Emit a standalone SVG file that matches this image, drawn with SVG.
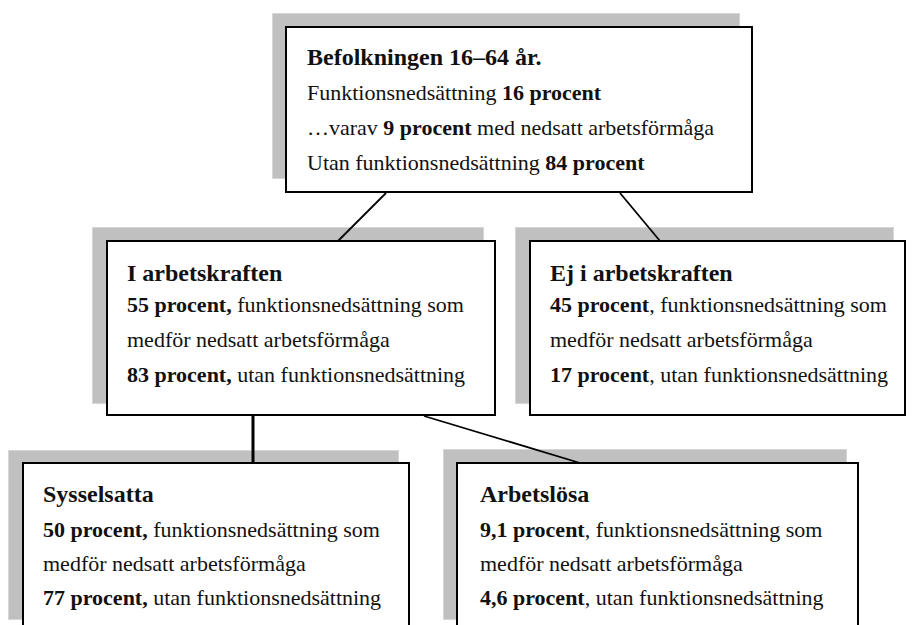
<svg xmlns="http://www.w3.org/2000/svg" width="917" height="625" viewBox="0 0 917 625">
<style>
.shadow{fill:#c0c0c0;stroke:#d6d6d6;stroke-width:1}
.box{fill:#ffffff;stroke:#000000;stroke-width:2}
text{font-family:"Liberation Serif","Times New Roman",serif;fill:#111111}
.t{font-size:24px;font-weight:bold}
.b{font-size:22px}
.s{font-weight:bold}
.conn{stroke:#000000;stroke-width:1.8;fill:none}
</style>
<rect width="917" height="625" fill="#ffffff"/>
<g id="befolkning">
<rect class="shadow" x="272.5" y="13.5" width="467" height="165"/>
<rect class="box" x="286" y="27" width="466" height="165"/>
<text class="t" x="307" y="65">Befolkningen 16–64 år.</text>
<text class="b" x="307" y="100">Funktionsnedsättning <tspan class="s">16 procent</tspan></text>
<text class="b" x="307" y="135">…varav <tspan class="s">9 procent</tspan> med nedsatt arbetsförmåga</text>
<text class="b" x="307" y="170">Utan funktionsnedsättning <tspan class="s">84 procent</tspan></text>
</g>
<g id="i-arbetskraften">
<rect class="shadow" x="92.5" y="227.5" width="391" height="176"/>
<rect class="box" x="107" y="241" width="388" height="174"/>
<text class="t" x="127" y="281">I arbetskraften</text>
<text class="b" x="127" y="312"><tspan class="s">55 procent,</tspan> funktionsnedsättning som</text>
<text class="b" x="127" y="347">medför nedsatt arbetsförmåga</text>
<text class="b" x="127" y="382"><tspan class="s">83 procent,</tspan> utan funktionsnedsättning</text>
</g>
<g id="ej-i-arbetskraften">
<rect class="shadow" x="515.5" y="227.5" width="378" height="176"/>
<rect class="box" x="530" y="241" width="375" height="174"/>
<text class="t" x="550" y="281">Ej i arbetskraften</text>
<text class="b" x="550" y="312"><tspan class="s">45 procent</tspan>, funktionsnedsättning som</text>
<text class="b" x="550" y="347">medför nedsatt arbetsförmåga</text>
<text class="b" x="550" y="382"><tspan class="s">17 procent</tspan>, utan funktionsnedsättning</text>
</g>
<g id="sysselsatta">
<rect class="shadow" x="8.5" y="450.5" width="390" height="169"/>
<rect class="box" x="23" y="463" width="386" height="175"/>
<text class="t" x="43" y="502">Sysselsatta</text>
<text class="b" x="43" y="537"><tspan class="s">50 procent,</tspan> funktionsnedsättning som</text>
<text class="b" x="43" y="571">medför nedsatt arbetsförmåga</text>
<text class="b" x="43" y="605"><tspan class="s">77 procent,</tspan> utan funktionsnedsättning</text>
</g>
<g id="arbetslosa">
<rect class="shadow" x="443.5" y="449.5" width="403" height="170"/>
<rect class="box" x="457" y="463" width="401" height="175"/>
<text class="t" x="480" y="502">Arbetslösa</text>
<text class="b" x="480" y="537"><tspan class="s">9,1 procent</tspan>, funktionsnedsättning som</text>
<text class="b" x="480" y="571">medför nedsatt arbetsförmåga</text>
<text class="b" x="480" y="605"><tspan class="s">4,6 procent</tspan>, utan funktionsnedsättning</text>
</g>
<g id="connectors">
<line class="conn" x1="386" y1="193" x2="338" y2="241"/>
<line class="conn" x1="620" y1="193" x2="660" y2="241"/>
<line class="conn" x1="253" y1="416" x2="253" y2="463" style="stroke-width:3"/>
<line class="conn" x1="424" y1="416" x2="580" y2="463"/>
</g>
</svg>
